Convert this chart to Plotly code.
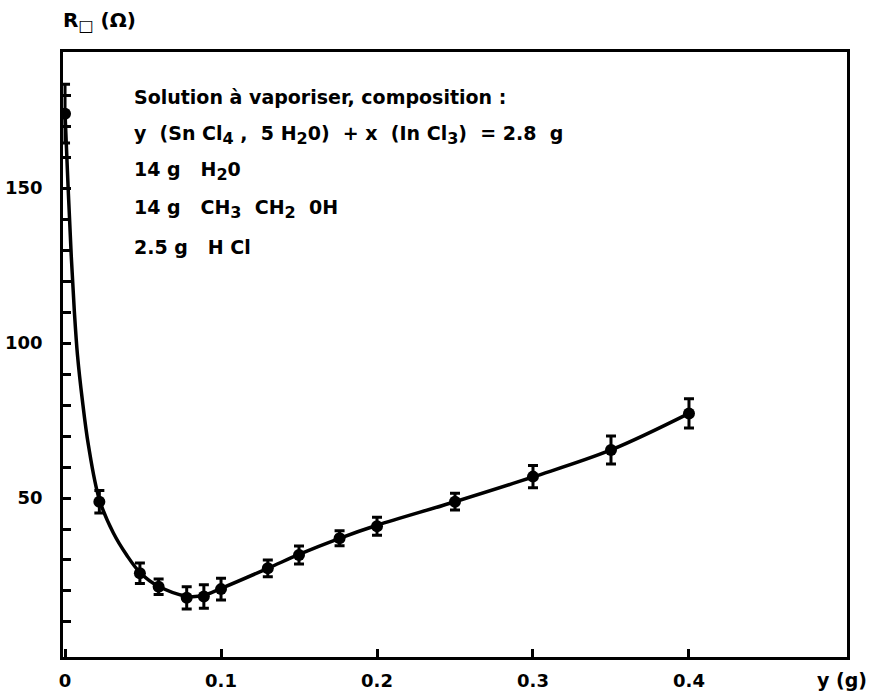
import plotly.graph_objects as go

# Measured points (y in g, sheet resistance in ohm) with error bars
y_g = [0, 0.022, 0.048, 0.060, 0.078, 0.089, 0.100, 0.130, 0.150, 0.176, 0.200, 0.250, 0.300, 0.350, 0.400]
r_sq = [174, 48.8, 25.7, 21.4, 17.8, 18.2, 20.6, 27.3, 31.6, 37.0, 40.9, 48.8, 56.9, 65.5, 77.3]
r_err = [9.5, 3.6, 3.3, 2.5, 3.6, 3.8, 3.5, 2.7, 2.9, 2.4, 2.9, 2.7, 3.6, 4.5, 4.7]

# Hand-drawn fitted curve
curve_x = [0, 0.002, 0.004, 0.006, 0.008, 0.011, 0.015, 0.022, 0.031, 0.0395, 0.048, 0.060,
           0.078, 0.089, 0.100, 0.130, 0.150, 0.176, 0.200, 0.250, 0.300, 0.350, 0.400]
curve_y = [174, 150, 128, 110, 96, 82, 67, 49.5, 38.7, 31.6, 26, 21.5,
           18.3, 18.6, 20.8, 27.3, 31.8, 37, 41.2, 48.8, 56.8, 65.5, 77.3]

x_tickvals = [0, 0.1, 0.2, 0.3, 0.4]
x_ticktext = ["0", "0.1", "0.2", "0.3", "0.4"]
y_tickvals = [50, 100, 150]
y_ticktext = ["50", "100", "150"]
y_minor_ticks = [10, 20, 30, 40, 60, 70, 80, 90, 110, 120, 130, 140, 160, 170, 180]


def sub(s):
    return '<sub><span style="font-size:16px">' + s + '</span></sub>'


S = "\u00a0"
text_lines = [
    "Solution à vaporiser, composition :",
    "y" + S * 2 + "(Sn" + S + "Cl" + sub("4") + S + "," + S * 2 + "5" + S + "H" + sub("2") + "0)" + S * 2 + "+"
    + S + "x" + S * 2 + "(In" + S + "Cl" + sub("3") + ")" + S * 2 + "=" + S + "2.8" + S * 2 + "g",
    "14" + S + "g" + S * 3 + "H" + sub("2") + "0",
    "14" + S + "g" + S * 3 + "CH" + sub("3") + S * 2 + "CH" + sub("2") + S * 2 + "0H",
    "2.5" + S + "g" + S * 3 + "H" + S + "Cl",
]
text_y_px = [97, 135, 171, 209, 247]

W, H = 875, 691
L, R, T, B = 63, 28, 52, 34
pw, ph = W - L - R, H - T - B

FONT = "DejaVu Sans"

fig = go.Figure()
fig.add_trace(go.Scatter(
    x=curve_x, y=curve_y, mode="lines",
    line=dict(color="black", width=3.5, shape="spline", smoothing=1.0),
    hoverinfo="skip", showlegend=False))
fig.add_trace(go.Scatter(
    x=y_g, y=r_sq, mode="markers",
    marker=dict(color="black", size=12),
    error_y=dict(type="data", array=r_err, color="black", thickness=3, width=5),
    showlegend=False))

annotations = []
for t, py in zip(text_lines, text_y_px):
    annotations.append(dict(
        x=(132 - L) / pw, y=(H - B - py) / ph, xref="paper", yref="paper",
        text=t, showarrow=False, xanchor="left", yanchor="middle",
        font=dict(family=FONT, size=19, color="black", weight="bold")))
annotations.append(dict(
    x=(61 - L) / pw, y=(H - B - 22) / ph, xref="paper", yref="paper",
    text="R" + sub("□") + S + "(Ω)", showarrow=False, xanchor="left", yanchor="middle",
    font=dict(family=FONT, size=20, color="black", weight="bold")))
annotations.append(dict(
    x=(869 - L) / pw, y=(H - B - 680) / ph, xref="paper", yref="paper",
    text="y" + S + "(g)", showarrow=False, xanchor="right", yanchor="middle",
    font=dict(family=FONT, size=19, color="black", weight="bold")))

fig.update_layout(
    template="none",
    width=W, height=H,
    margin=dict(l=L, r=R, t=T, b=B, autoexpand=False),
    paper_bgcolor="white", plot_bgcolor="white",
    font=dict(family=FONT, size=18, color="black"),
    annotations=annotations,
    hovermode=False,
    xaxis=dict(range=[-0.0013, 0.5013], tickvals=x_tickvals, ticktext=x_ticktext,
               automargin=False,
               ticks="inside", ticklen=8, tickwidth=2.5, tickcolor="black",
               showline=True, linecolor="black", linewidth=2.5, mirror=True,
               showgrid=False, zeroline=False, ticklabelstandoff=6,
               tickfont=dict(family=FONT, size=18, color="black", weight="bold")),
    yaxis=dict(range=[-1.3, 193.9], tickvals=y_tickvals, ticktext=y_ticktext,
               automargin=False,
               ticks="inside", ticklen=8, tickwidth=2.5, tickcolor="black",
               minor=dict(tickmode="array", tickvals=y_minor_ticks, ticks="inside",
                          ticklen=8, tickwidth=2.5, tickcolor="black", showgrid=False),
               showline=True, linecolor="black", linewidth=2.5, mirror=True,
               showgrid=False, zeroline=False, ticklabelstandoff=14,
               tickfont=dict(family=FONT, size=18, color="black", weight="bold")),
)

fig.write_html("out.html",
               config={"displayModeBar": False},
               post_script="document.body.style.margin='0';document.body.style.overflow='hidden';")
